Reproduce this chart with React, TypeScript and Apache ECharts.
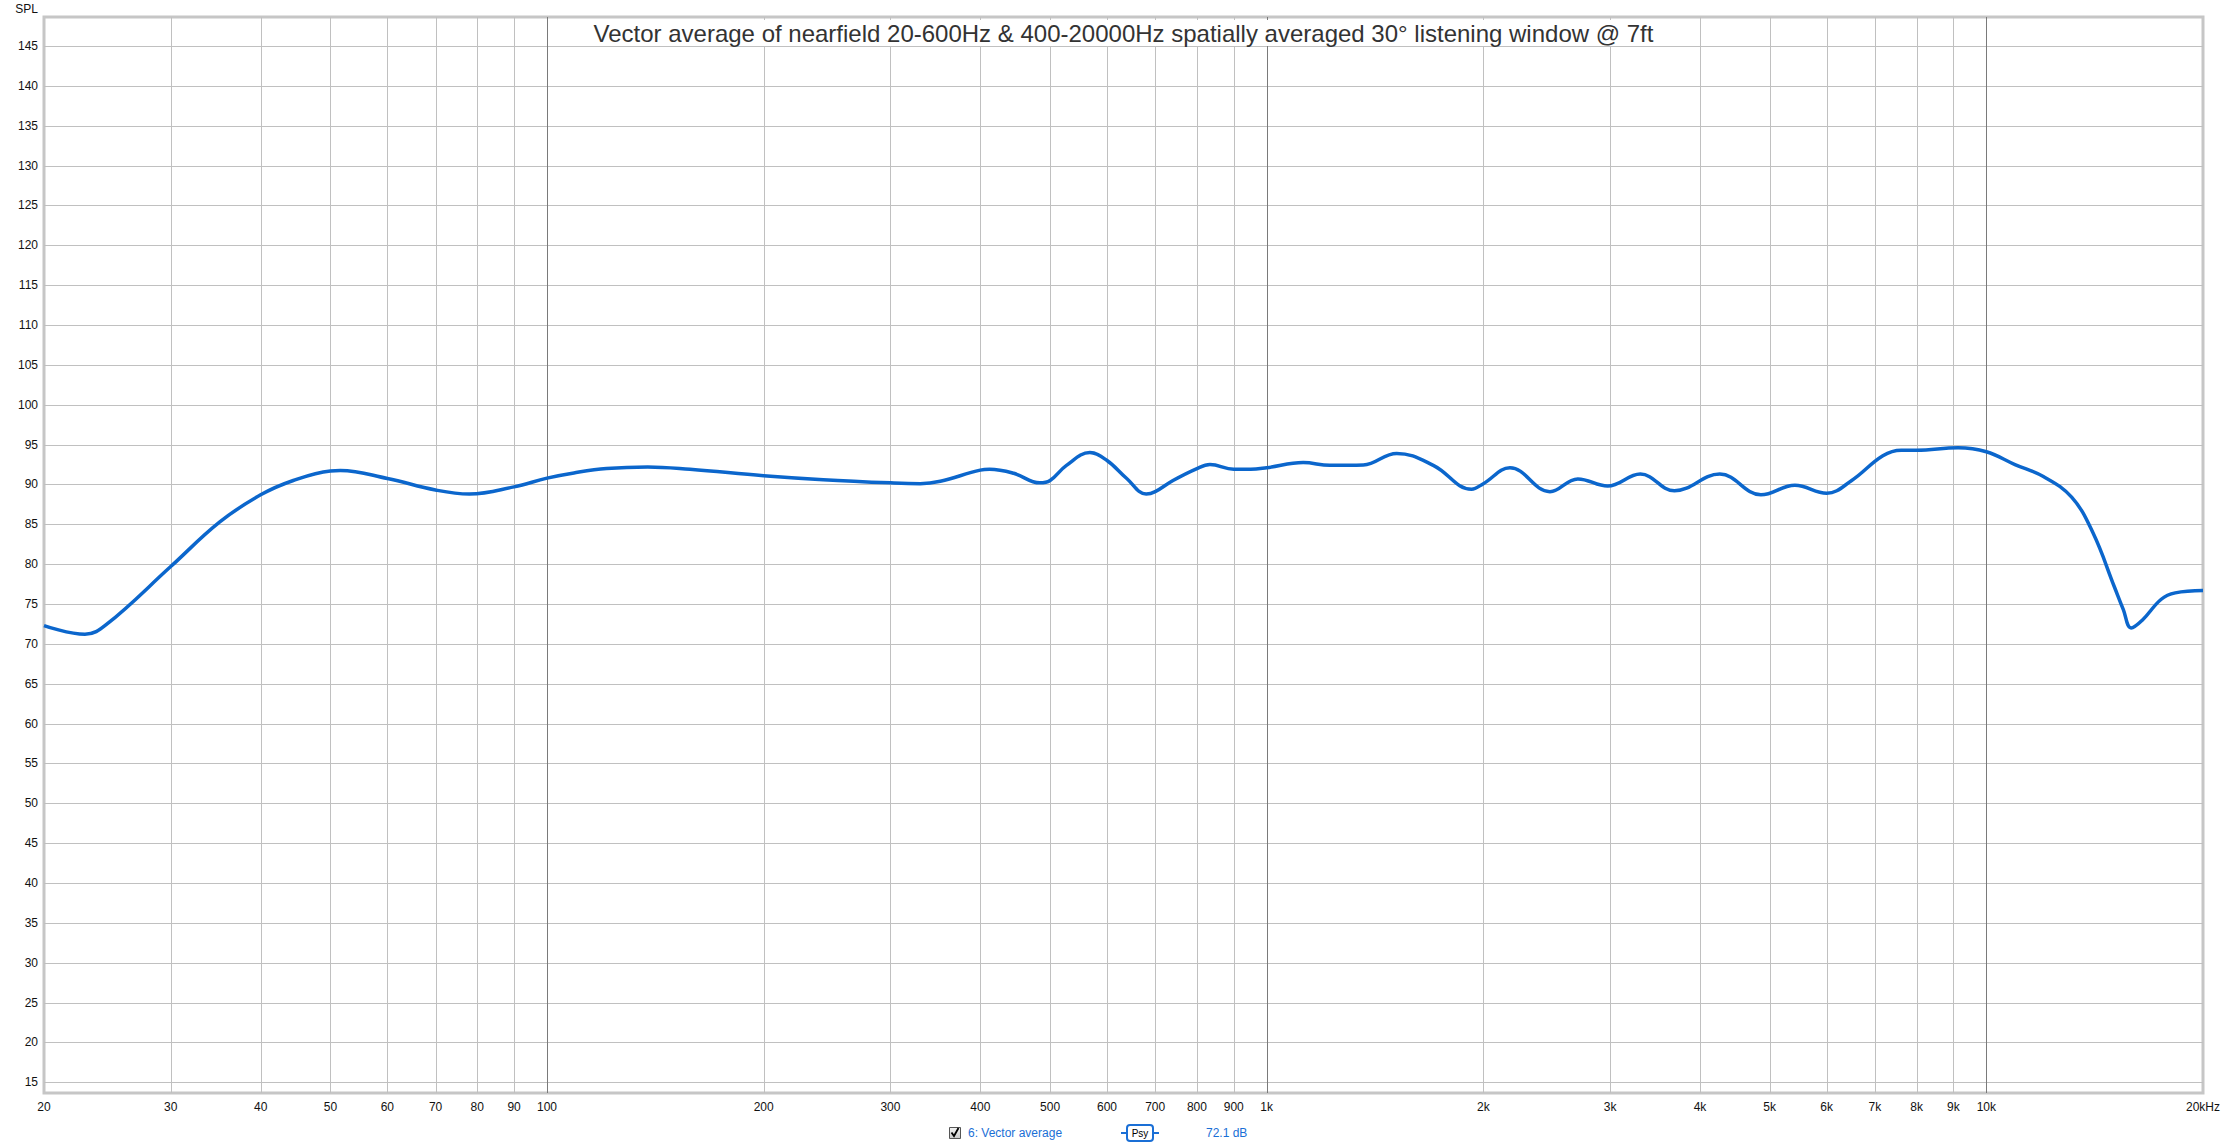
import React, { useEffect, useRef } from 'react';
import * as echarts from 'echarts';

// Frequency response (Hz) and SPL (dB)
const freqs = [
  20, 22.8, 24.4, 30, 35.1, 40, 44.4, 50, 51.6, 60, 70, 78, 90, 100, 109, 121, 138, 158, 200, 242,
  300, 330, 352, 400, 412, 445, 484, 500, 527, 568, 600, 639, 680, 700, 741, 800, 834, 900, 950, 1000,
  1124, 1224, 1362, 1516, 1704, 1926, 2000, 2178, 2475, 2706, 2977, 3305, 3686, 4262, 4861, 5420, 6000,
  6500, 7181, 7617, 8000, 9135, 10000, 10958, 12000, 13137, 14070, 15055, 15500, 15893, 16480, 17500, 18300, 20000,
];
const spl = [
  72.3, 71.2, 72.4, 79.7, 85.3, 88.7, 90.5, 91.7, 91.75, 90.75, 89.3, 88.8, 89.7, 90.8, 91.45, 92.0, 92.2, 91.9, 91.1, 90.6,
  90.2, 90.1, 90.4, 91.8, 91.9, 91.4, 90.2, 90.5, 92.4, 94.0, 93.0, 90.75, 88.8, 89.1, 90.5, 92.0, 92.5, 91.9, 91.9, 92.1,
  92.75, 92.4, 92.45, 93.9, 92.4, 89.4, 90.1, 92.1, 89.1, 90.7, 89.8, 91.3, 89.2, 91.3, 88.7, 89.9, 88.9,
  90.5, 93.6, 94.3, 94.3, 94.6, 94.1, 92.5, 91.0, 88.4, 83.9, 77.2, 74.3, 72.0, 73.0, 75.6, 76.4, 76.7,
];

const xTicks = [20, 30, 40, 50, 60, 70, 80, 90, 100, 200, 300, 400, 500, 600, 700, 800, 900, 1000, 2000, 3000, 4000, 5000, 6000, 7000, 8000, 9000, 10000, 20000];
const xTickLabels = ['20', '30', '40', '50', '60', '70', '80', '90', '100', '200', '300', '400', '500', '600', '700', '800', '900', '1k', '2k', '3k', '4k', '5k', '6k', '7k', '8k', '9k', '10k', '20kHz'];
const majorX = [100, 1000, 10000];
const yTicks = [15, 20, 25, 30, 35, 40, 45, 50, 55, 60, 65, 70, 75, 80, 85, 90, 95, 100, 105, 110, 115, 120, 125, 130, 135, 140, 145];

const titleText = 'Vector average of nearfield 20-600Hz & 400-20000Hz spatially averaged 30° listening window @ 7ft';
const seriesName = '6: Vector average';
const levelText = '72.1 dB';

const Y_MIN = 13.65;
const Y_MAX = 148.65;
const X_MIN = 20;
const X_MAX = 20000;
const FONT = '"Liberation Sans", Arial, sans-serif';
const BLUE = '#1a6fd6';

export default function App() {
  const ref = useRef<HTMLDivElement>(null);
  useEffect(() => {
    const chart = echarts.init(ref.current as HTMLDivElement, null, { renderer: 'svg' });
    const option: any = {
      animation: false,
      backgroundColor: '#ffffff',
      textStyle: { fontFamily: FONT },
      grid: {
        left: 44, top: 17, width: 2159, height: 1076,
        show: true, borderColor: '#c6c6c6', borderWidth: 3, backgroundColor: '#ffffff',
      },
      xAxis: {
        type: 'log', logBase: 10, min: X_MIN, max: X_MAX,
        axisLine: { show: false }, axisTick: { show: false }, axisLabel: { show: false }, splitLine: { show: false },
      },
      yAxis: {
        type: 'value', min: Y_MIN, max: Y_MAX,
        axisLine: { show: false }, axisTick: { show: false }, axisLabel: { show: false }, splitLine: { show: false },
      },
      series: [
        {
          type: 'custom', silent: true, clip: false, z: 1,
          data: yTicks.map((v) => [X_MIN, v]),
          renderItem: (params: any, api: any) => {
            const v = api.value(1);
            const a = api.coord([X_MIN, v]);
            const b = api.coord([X_MAX, v]);
            return {
              type: 'group',
              children: [
                { type: 'line', shape: { x1: a[0], y1: Math.round(a[1]) + 0.5, x2: b[0], y2: Math.round(b[1]) + 0.5 }, style: { stroke: '#c0c0c0', lineWidth: 1 } },
                { type: 'text', x: 38, y: a[1], style: { text: String(v), textAlign: 'right', textVerticalAlign: 'middle', font: '12px ' + FONT, fill: '#111' } },
              ],
            };
          },
        },
        {
          type: 'custom', silent: true, clip: false, z: 2,
          data: xTicks.map((f) => [f, Y_MIN]),
          renderItem: (params: any, api: any) => {
            const f = api.value(0);
            const idx = params.dataIndex;
            const top = api.coord([f, Y_MAX]);
            const bot = api.coord([f, Y_MIN]);
            const children: any[] = [];
            if (f !== X_MIN && f !== X_MAX) {
              const x = Math.round(top[0]) + 0.5;
              children.push({
                type: 'line',
                shape: { x1: x, y1: top[1], x2: x, y2: bot[1] },
                style: { stroke: majorX.indexOf(f) >= 0 ? '#7a7a7a' : '#c0c0c0', lineWidth: 1 },
              });
            }
            children.push({
              type: 'text', x: bot[0], y: bot[1] + 14,
              style: { text: xTickLabels[idx], textAlign: 'center', textVerticalAlign: 'middle', font: '12px ' + FONT, fill: '#111' },
            });
            return { type: 'group', children };
          },
        },
        {
          type: 'line', name: seriesName, z: 5,
          data: freqs.map((f, i) => [f, spl[i]]),
          showSymbol: false, smooth: 0.4,
          lineStyle: { color: '#0b66cc', width: 3.5 },
          itemStyle: { color: '#0b66cc' },
        },
      ],
      graphic: [
        {
          type: 'text', x: 1123.5, y: 33, z: 10,
          style: {
            text: titleText, textAlign: 'center', textVerticalAlign: 'middle',
            font: '24px ' + FONT, fill: '#333', backgroundColor: '#ffffff', padding: [1, 4],
          },
        },
        { type: 'text', x: 38, y: 9, style: { text: 'SPL', textAlign: 'right', textVerticalAlign: 'middle', font: '12px ' + FONT, fill: '#111' } },
        {
          type: 'rect', shape: { x: 949.5, y: 1127.5, width: 11, height: 11 },
          style: {
            fill: new echarts.graphic.LinearGradient(0, 0, 0, 1, [{ offset: 0, color: '#f4f4f4' }, { offset: 1, color: '#c8c8c8' }]),
            stroke: '#555', lineWidth: 1,
          },
        },
        { type: 'polyline', shape: { points: [[951.5, 1132.5], [954, 1136], [958.5, 1128]] }, style: { stroke: '#000', lineWidth: 1.8, fill: null } },
        { type: 'text', x: 968, y: 1133, style: { text: seriesName, textAlign: 'left', textVerticalAlign: 'middle', font: '12px ' + FONT, fill: BLUE } },
        { type: 'line', shape: { x1: 1121, y1: 1133, x2: 1127, y2: 1133 }, style: { stroke: BLUE, lineWidth: 2 } },
        { type: 'line', shape: { x1: 1153, y1: 1133, x2: 1159, y2: 1133 }, style: { stroke: BLUE, lineWidth: 2 } },
        { type: 'rect', shape: { x: 1127, y: 1125, width: 26, height: 16, r: 3 }, style: { stroke: BLUE, lineWidth: 2, fill: '#fff' } },
        { type: 'text', x: 1140, y: 1133.5, style: { text: 'Psy', textAlign: 'center', textVerticalAlign: 'middle', font: '10px ' + FONT, fill: '#000' } },
        { type: 'text', x: 1206, y: 1133, style: { text: levelText, textAlign: 'left', textVerticalAlign: 'middle', font: '12px ' + FONT, fill: BLUE } },
      ],
    };
    chart.setOption(option);
    return () => chart.dispose();
  }, []);
  return (
    <div
      ref={ref}
      style={{ position: 'absolute', left: 0, top: 0, width: 2225, height: 1147, background: '#fff' }}
    />
  );
}
